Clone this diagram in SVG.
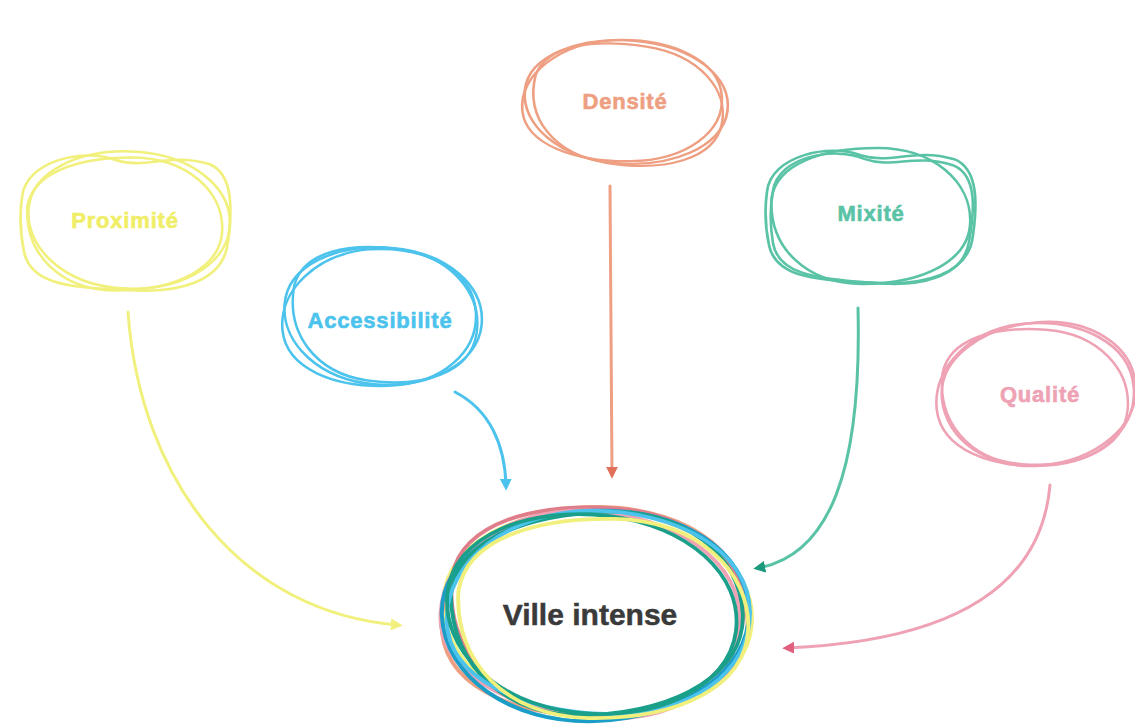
<svg xmlns="http://www.w3.org/2000/svg" width="1135" height="728" viewBox="0 0 1135 728">
<style>
.loop{fill:none;stroke-width:2.6;stroke-linecap:round;stroke-linejoin:round;vector-effect:non-scaling-stroke}
.lbl{font-family:"Liberation Sans",Arial,sans-serif;font-weight:bold;font-size:22px;letter-spacing:0.8px;text-anchor:middle;dominant-baseline:central;stroke-width:0.6}
.conn{fill:none;stroke-width:3;stroke-linecap:round}
.y{stroke:#f1f07c}.b{stroke:#4cc3ec}.o{stroke:#ee9f82}.t{stroke:#5ac3a6}.p{stroke:#eea2b4}.g{stroke:#1aa08a}.bd{stroke:#1a9ec8}.r{stroke:#e07d8a}
</style>
<defs>
<path id="b1" d="M -98,-5 C -98,-45 -50,-71 5,-70 C 60,-69 101,-38 100,2 C 99,42 52,71 -3,70 C -58,69 -98,35 -98,-5 Z"/>
<path id="b2" d="M -100,8 C -102,-35 -60,-70 -8,-72 C 50,-73 97,-45 98,-2 C 99,40 60,72 5,71 C -50,70 -98,48 -100,8 Z"/>
<path id="b3" d="M -100,-25 C -96,-62 -40,-74 -10,-62 C 20,-52 40,-70 80,-58 C 104,-48 102,-10 98,20 C 94,60 50,72 0,68 C -60,66 -92,60 -98,30 C -102,10 -102,-10 -100,-25 Z"/>
<path id="b4" d="M -96,-20 C -90,-55 -45,-70 10,-68 C 65,-66 100,-30 98,10 C 96,50 50,72 -10,70 C -65,68 -100,30 -96,-20 Z"/>
<marker id="ay" viewBox="0 0 10 10" refX="6" refY="5" markerWidth="4" markerHeight="4" orient="auto"><path d="M0,0 L10,5 L0,10 Z" fill="#f1f07c"/></marker>
<marker id="ab" viewBox="0 0 10 10" refX="6" refY="5" markerWidth="4" markerHeight="4" orient="auto"><path d="M0,0 L10,5 L0,10 Z" fill="#4cc3ec"/></marker>
<marker id="ao" viewBox="0 0 10 10" refX="6" refY="5" markerWidth="4" markerHeight="4" orient="auto"><path d="M0,0 L10,5 L0,10 Z" fill="#e0705a"/></marker>
<marker id="at" viewBox="0 0 10 10" refX="6" refY="5" markerWidth="4" markerHeight="4" orient="auto"><path d="M0,0 L10,5 L0,10 Z" fill="#1a9a7a"/></marker>
<marker id="ap" viewBox="0 0 10 10" refX="6" refY="5" markerWidth="4" markerHeight="4" orient="auto"><path d="M0,0 L10,5 L0,10 Z" fill="#e0607e"/></marker>
</defs>
<rect width="1135" height="728" fill="#ffffff"/>
<g id="connectors">
<path class="conn y" d="M128,312 C140,480 240,612 398,625" marker-end="url(#ay)"/>
<path class="conn b" d="M455,392 C490,410 505,445 506,486" marker-end="url(#ab)"/>
<path class="conn o" d="M610,186 C611,300 612,400 612,474" stroke-width="2" marker-end="url(#ao)"/>
<path class="conn t" d="M858,308 C862,470 830,555 758,568" stroke="#2bab8e" marker-end="url(#at)"/>
<path class="conn p" d="M1050,485 C1040,600 930,642 787,648" stroke="#e27a93" stroke-width="2.5" marker-end="url(#ap)"/>
</g>
<g id="proximite">
<use href="#b3" class="loop y" transform="translate(126,222) scale(1.04,1.0)"/>
<use href="#b1" class="loop y" transform="translate(128,220) scale(1.02,0.98) rotate(3)"/>
<use href="#b4" class="loop y" transform="translate(124,223) scale(1.0,0.96) rotate(-2)"/>
<text class="lbl" x="125" y="220" fill="#f0ee66" stroke="#f0ee66">Proximité</text>
</g>
<g id="accessibilite">
<use href="#b1" class="loop b" transform="translate(382,316) scale(1.0,0.98) rotate(4)"/>
<use href="#b2" class="loop b" transform="translate(380,318) scale(0.98,0.96) rotate(-3)"/>
<use href="#b4" class="loop b" transform="translate(384,314) scale(0.96,0.97) rotate(6)"/>
<text class="lbl" x="380" y="320" fill="#4cc3ec" stroke="#4cc3ec">Accessibilité</text>
</g>
<g id="densite">
<use href="#b1" class="loop o" transform="translate(625,102) scale(1.03,0.88) rotate(5)"/>
<use href="#b2" class="loop o" transform="translate(623,101) scale(1.01,0.85) rotate(-2)"/>
<use href="#b4" class="loop o" transform="translate(627,104) scale(0.99,0.87) rotate(8)"/>
<text class="lbl" x="625" y="101" fill="#ee9f82" stroke="#ee9f82">Densité</text>
</g>
<g id="mixite">
<use href="#b3" class="loop t" transform="translate(871,216) scale(1.04,0.98)"/>
<use href="#b3" class="loop t" transform="translate(872,218) scale(1.0,0.95) rotate(2)"/>
<use href="#b4" class="loop t" transform="translate(870,215) scale(1.02,0.98) rotate(-2)"/>
<text class="lbl" x="871" y="213" fill="#5ac3a6" stroke="#5ac3a6">Mixité</text>
</g>
<g id="qualite">
<use href="#b2" class="loop p" transform="translate(1036,395) scale(1.0,1.0) rotate(-4)"/>
<use href="#b1" class="loop p" transform="translate(1038,394) scale(0.98,1.02) rotate(-6)"/>
<use href="#b4" class="loop p" transform="translate(1034,396) scale(0.96,0.98) rotate(2)"/>
<text class="lbl" x="1040" y="394" fill="#eea2b4" stroke="#eea2b4">Qualité</text>
</g>
<g id="ville-intense">
<use href="#b1" class="loop y" transform="translate(596,614) scale(1.56,1.48) rotate(3)"/>
<use href="#b2" class="loop o" transform="translate(594,612) scale(1.53,1.46) rotate(-4)"/>
<use href="#b4" class="loop r" transform="translate(598,610) scale(1.53,1.5) rotate(2)"/>
<use href="#b2" class="loop p" transform="translate(592,615) scale(1.51,1.44) rotate(5)"/>
<use href="#b1" class="loop bd" transform="translate(594,616) scale(1.55,1.5) rotate(-3)"/>
<use href="#b4" class="loop g" transform="translate(596,612) scale(1.49,1.46) rotate(-5)"/>
<use href="#b2" class="loop b" transform="translate(600,613) scale(1.53,1.42) rotate(1)"/>
<use href="#b1" class="loop g" transform="translate(590,614) scale(1.47,1.42) rotate(6)"/>
<use href="#b4" class="loop y" transform="translate(602,617) scale(1.49,1.44) rotate(-1)"/>
<text x="590" y="614" font-family="'Liberation Sans',Arial,sans-serif" font-weight="bold" font-size="30" fill="#3a3a3a" stroke="#3a3a3a" stroke-width="0.5" text-anchor="middle" dominant-baseline="central">Ville intense</text>
</g>
</svg>
